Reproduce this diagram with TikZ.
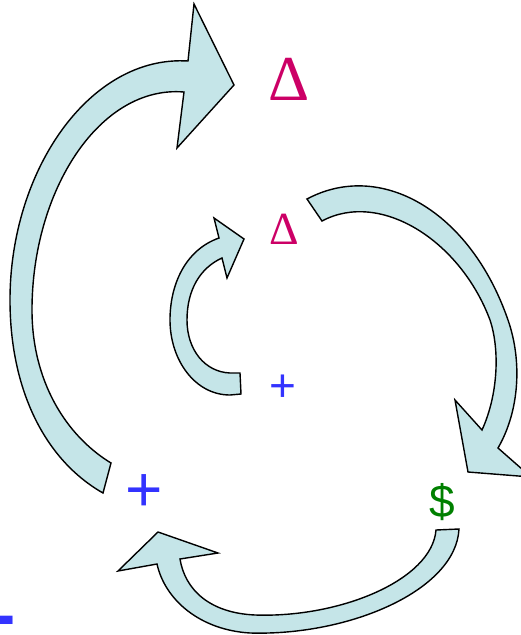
\documentclass[tikz,border=0pt]{standalone}
\usepackage{fontspec}
\setmainfont{Liberation Sans}
\newfontfamily\deltafont{Liberation Serif}
\definecolor{arrowfill}{RGB}{197,229,232}
\definecolor{deltacol}{RGB}{204,0,102}
\definecolor{signblue}{RGB}{51,51,255}
\definecolor{moneygreen}{RGB}{0,128,0}
\begin{document}
\begin{tikzpicture}[x=1pt, y=-1pt,
    blockarrow/.style={fill=arrowfill, draw=black, line width=1.4pt, line join=miter},
    label/.style={inner sep=0pt, anchor=center}]
    \useasboundingbox (0,0) rectangle (520,635);
    % big loop on the left
    \filldraw[blockarrow] (103,493) .. controls (45,460) and (10,390) .. (10,300)
        .. controls (10,170) and (90,55) .. (188,61) -- (194,4) -- (234,85)
        -- (177,148) -- (184,92) .. controls (100,85) and (32,190) .. (32,310)
        .. controls (32,380) and (65,435) .. (111,463) -- cycle;
    % small loop in the middle
    \filldraw[blockarrow] (241,394) -- (240,373) -- (230,373)
        .. controls (205,372) and (187,350) .. (187,320)
        .. controls (187,290) and (200,268) .. (222,258) -- (227,278) -- (244,239)
        -- (214,218) -- (219,238) .. controls (185,250) and (170,285) .. (170,320)
        .. controls (170,360) and (195,395) .. (230,395) -- cycle;
    % right loop
    \filldraw[blockarrow] (307,199) .. controls (380,160) and (470,210) .. (508,320)
        .. controls (522,360) and (520,410) .. (498,448) -- (531,477) -- (468,472)
        -- (455,400) -- (482,430) .. controls (498,395) and (500,350) .. (490,320)
        .. controls (460,240) and (380,190) .. (322,221) -- cycle;
    % bottom loop
    \filldraw[blockarrow] (459,529) .. controls (456,590) and (350,636) .. (250,633)
        .. controls (200,630) and (165,600) .. (157,564) -- (118,571) -- (158,532)
        -- (218,553) -- (180,559) .. controls (185,590) and (210,613) .. (255,615)
        .. controls (340,618) and (432,580) .. (436,530) -- cycle;
    \node[label, text=deltacol, font=\deltafont\fontsize{64}{64}\selectfont] (dBig) at (289,79) {Δ};
    \node[label, text=deltacol, font=\deltafont\fontsize{46}{46}\selectfont] (dSmall) at (284,229) {Δ};
    \node[label, text=signblue, font=\fontsize{64}{64}\selectfont] (plusBig) at (144,493) {+};
    \node[label, text=signblue, font=\fontsize{46}{46}\selectfont] (plusSmall) at (283,388) {+};
    \node[label, text=moneygreen, font=\fontsize{46}{46}\selectfont] (dollar) at (442,502) {\$};
    \node[label, text=signblue, font=\fontsize{70}{70}\selectfont\bfseries] (minus) at (4,627) {-};
\end{tikzpicture}
\end{document}
